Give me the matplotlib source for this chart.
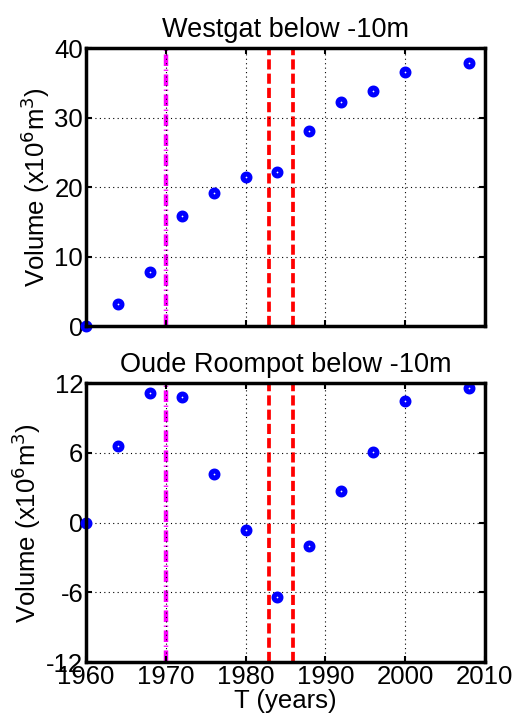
import numpy as np
import matplotlib.pyplot as plt

plt.rcParams['font.family'] = ['Liberation Sans', 'DejaVu Sans']
plt.rcParams['axes.unicode_minus'] = False

# Messjahre und Volumina (x10^6 m^3)
jahre = [1960, 1964, 1968, 1972, 1976, 1980, 1984, 1988, 1992, 1996, 2000, 2008]
westgat = [0.0, 3.1, 7.7, 15.8, 19.2, 21.5, 22.1, 28.1, 32.2, 33.8, 36.6, 37.9]
roompot = [0.0, 6.6, 11.2, 10.85, 4.2, -0.65, -6.4, -2.05, 2.7, 6.1, 10.45, 11.6]

# Ereignisjahre (vertikale Linien)
jahr_magenta = 1970
jahre_rot = [1983, 1986]

x_ticks = [1960, 1970, 1980, 1990, 2000, 2010]
y_ticks_oben = [0, 10, 20, 30, 40]
y_ticks_unten = [-12, -6, 0, 6, 12]

fs = 18.5

fig = plt.figure(figsize=(5.18, 7.24), dpi=100)
ax1 = fig.add_axes([0.166, 0.5497, 0.770, 0.384])
ax2 = fig.add_axes([0.166, 0.0856, 0.770, 0.385])


def panel(ax, werte, yticks, titel, xlabels):
    ax.set_axisbelow(False)  # Raster ueber den vertikalen Linien
    ax.axvline(jahr_magenta, color='magenta', lw=3.2, ls=(0, (2.6, 0.8, 0.3, 0.8)), zorder=2)
    for j in jahre_rot:
        ax.axvline(j, color='red', lw=2.7, ls=(0, (2.7, 1.1)), zorder=2)
    ax.plot(jahre, werte, ls='none', marker='o', ms=5, mfc='white', mec='blue',
            mew=3.6, clip_on=False, zorder=3)
    ax.set_xlim(1960, 2010)
    ax.set_ylim(yticks[0], yticks[-1])
    ax.set_xticks(x_ticks)
    ax.set_yticks(yticks)
    ax.grid(True, color='black', ls=(0, (1, 3)), lw=0.8)
    ax.tick_params(direction='in', length=4, width=1.5, top=True, right=True,
                   labelsize=fs, pad=2)
    if not xlabels:
        ax.set_xticklabels([])
    for s in ax.spines.values():
        s.set_linewidth(2.5)
        s.set_zorder(4)
    ax.set_title(titel, fontsize=fs + 1, pad=8)
    ax.set_ylabel('Volume (x10$^6$m$^3$)', fontsize=fs, labelpad=2)


panel(ax1, westgat, y_ticks_oben, 'Westgat below -10m', False)
panel(ax2, roompot, y_ticks_unten, 'Oude Roompot below -10m', True)
ax2.set_xlabel('T (years)', fontsize=fs, labelpad=0)

fig.savefig('out.png', dpi=100)
